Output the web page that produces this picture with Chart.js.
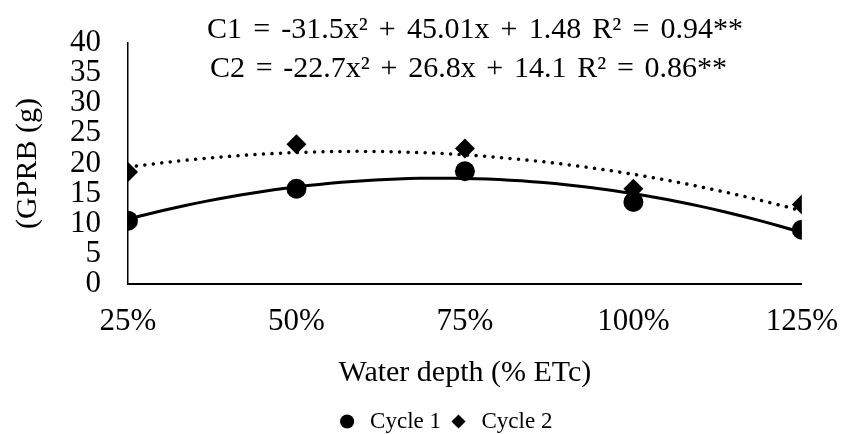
<!DOCTYPE html>
<html>
<head>
<meta charset="utf-8">
<script src="https://cdn.jsdelivr.net/npm/chart.js@4.4.1/dist/chart.umd.min.js"></script>
<style>
  html, body { margin: 0; padding: 0; background: #fff; }
  #wrap { width: 841px; height: 434px; }
</style>
</head>
<body>
<div id="wrap"><canvas id="gprbChart" width="841" height="434"></canvas></div>
<script>
// water depth levels (fraction of ETc) and their tick labels
const waterDepth = [0.25, 0.5, 0.75, 1.0, 1.25];
const depthLabels = ['25%', '50%', '75%', '100%', '125%'];

// observed GPRB (g) per cycle
const cycle1 = [10.5, 15.8, 18.7, 13.6, 9.0];
const cycle2 = [18.6, 23.2, 22.5, 15.8, 13.2];

// quadratic trendline coefficients [a, b, c] as printed on the chart
const cycle1Fit = [-31.5, 45.01, 1.48];
const cycle2Fit = [-22.7, 26.8, 14.1];

const equations = [
    'C1 = -31.5x² + 45.01x + 1.48 R² = 0.94**',
    'C2 = -22.7x² + 26.8x + 14.1 R² = 0.86**'
];

const yTicks = [0, 5, 10, 15, 20, 25, 30, 35, 40];

const FONT = "'Liberation Serif', 'Times New Roman', serif";

function toPoints(xs, ys) {
    return xs.map((x, i) => ({ x: x, y: ys[i] }));
}

// trendline drawn from the printed equation, sampled along the x range
function trendPoints(coef) {
    const pts = [];
    const lo = waterDepth[0], hi = waterDepth[waterDepth.length - 1];
    for (let i = 0; i <= 60; i++) {
        const x = lo + (hi - lo) * i / 60;
        pts.push({ x: x, y: coef[0] * x * x + coef[1] * x + coef[2] });
    }
    return pts;
}

// draw one equation line, widening the word gaps to span the given width
function drawSpread(ctx, text, left, baseline, width) {
    const words = text.split(' ');
    let natural = 0;
    words.forEach(w => { natural += ctx.measureText(w).width; });
    const gap = (width - natural) / (words.length - 1);
    let x = left;
    words.forEach(w => {
        ctx.fillText(w, x, baseline);
        x += ctx.measureText(w).width + gap;
    });
}

// equations above the plot
const equationPlugin = {
    id: 'equations',
    afterDraw(chart) {
        const ctx = chart.ctx;
        ctx.save();
        ctx.fillStyle = '#000';
        ctx.font = '30px ' + FONT;
        ctx.textAlign = 'left';
        ctx.textBaseline = 'alphabetic';
        drawSpread(ctx, equations[0], 207, 38, 536);
        drawSpread(ctx, equations[1], 210, 77, 517);
        ctx.restore();
    }
};

// the original legend sits right of the page centre
const legendShift = {
    id: 'legendShift',
    afterLayout(chart) {
        chart.legend.left += 40;
        chart.legend.right += 40;
    }
};

new Chart(document.getElementById('gprbChart'), {
    type: 'scatter',
    data: {
        datasets: [
            {
                label: 'Cycle 1',
                data: toPoints(waterDepth, cycle1),
                pointStyle: 'circle',
                pointRadius: 10,
                pointHoverRadius: 10,
                backgroundColor: '#000',
                borderColor: '#000',
                borderWidth: 0,
                showLine: false
            },
            {
                label: 'Cycle 2',
                data: toPoints(waterDepth, cycle2),
                pointStyle: 'rectRot',
                pointRadius: 10,
                pointHoverRadius: 10,
                backgroundColor: '#000',
                borderColor: '#000',
                borderWidth: 0,
                showLine: false
            },
            {
                label: 'trend1',
                data: trendPoints(cycle1Fit),
                showLine: true,
                pointRadius: 0,
                borderColor: '#000',
                borderWidth: 3,
                tension: 0
            },
            {
                label: 'trend2',
                data: trendPoints(cycle2Fit),
                showLine: true,
                pointRadius: 0,
                borderColor: '#000',
                borderWidth: 3.5,
                borderDash: [0.01, 8.5],
                borderCapStyle: 'round',
                tension: 0
            }
        ]
    },
    options: {
        responsive: false,
        animation: false,
        layout: { padding: { top: 43, left: 6, right: 39, bottom: -9 } },
        scales: {
            x: {
                type: 'linear',
                min: waterDepth[0],
                max: waterDepth[waterDepth.length - 1],
                afterBuildTicks: s => { s.ticks = waterDepth.map(v => ({ value: v })); },
                grid: { display: false, drawTicks: false },
                border: { display: true, color: '#000', width: 2 },
                ticks: {
                    color: '#000',
                    font: { family: FONT, size: 31, lineHeight: 2.26 },
                    padding: 3,
                    maxRotation: 0,
                    autoSkip: false,
                    callback: (v, i) => depthLabels[i]
                },
                title: {
                    display: true,
                    text: 'Water depth (% ETc)',
                    color: '#000',
                    font: { family: FONT, size: 30 },
                    padding: { top: -5, bottom: 13 }
                }
            },
            y: {
                min: 0,
                max: 40,
                afterBuildTicks: s => { s.ticks = yTicks.map(v => ({ value: v })); },
                grid: { display: false, drawTicks: false },
                border: { display: true, color: '#000', width: 1.5 },
                ticks: {
                    color: '#000',
                    font: { family: FONT, size: 31, lineHeight: 1 },
                    padding: 27,
                    autoSkip: false
                },
                title: {
                    display: true,
                    text: '(GPRB (g)',
                    color: '#000',
                    font: { family: FONT, size: 30, lineHeight: 1 },
                    padding: { top: 7, bottom: 0 }
                }
            }
        },
        plugins: {
            legend: {
                position: 'bottom',
                labels: {
                    filter: item => item.datasetIndex < 2,
                    usePointStyle: true,
                    boxHeight: 10,
                    color: '#000',
                    font: { family: FONT, size: 23 },
                    padding: 6
                }
            },
            tooltip: { enabled: false }
        }
    },
    plugins: [equationPlugin, legendShift]
});
</script>
</body>
</html>
